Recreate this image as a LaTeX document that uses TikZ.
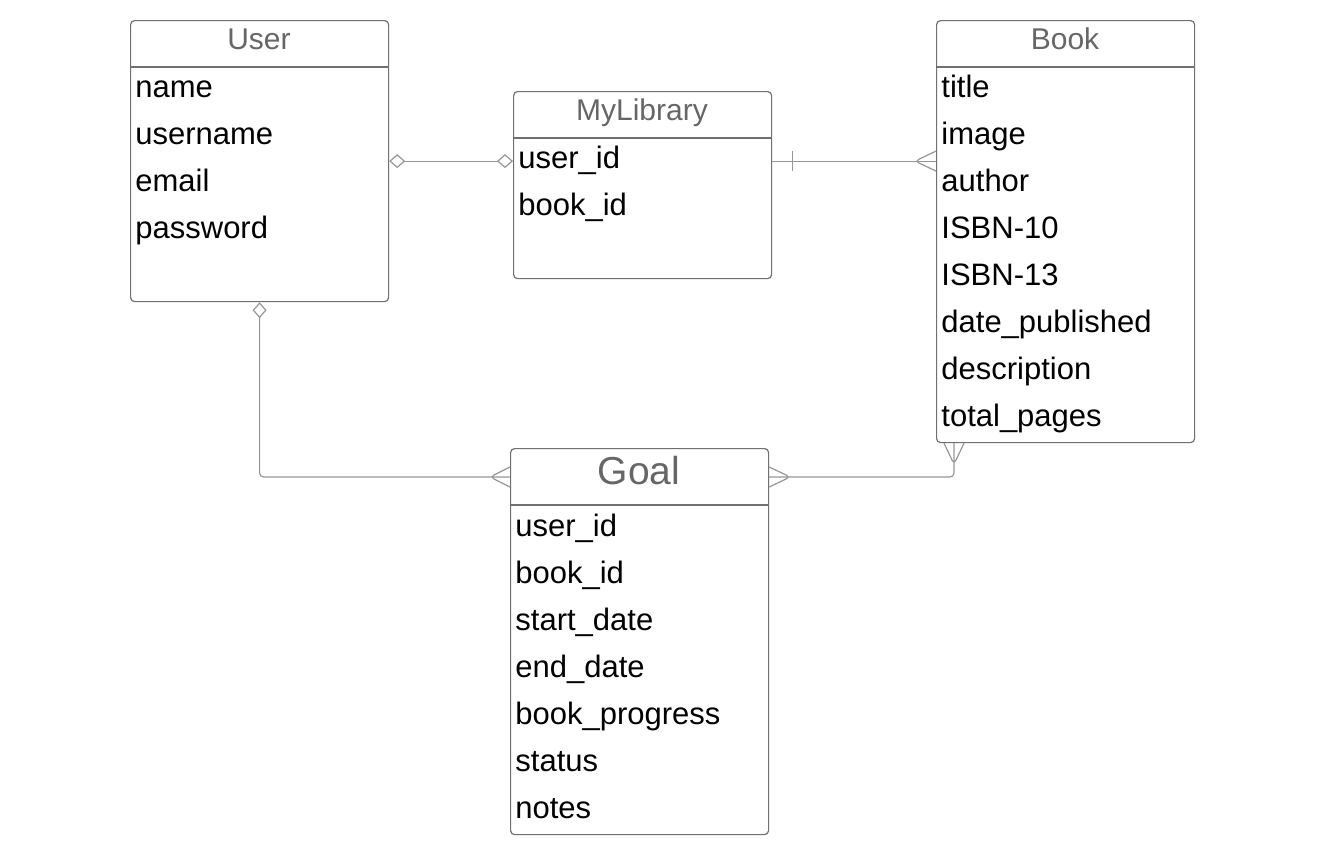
\documentclass[tikz,border=0pt]{standalone}
\usepackage{fontspec}
\setmainfont{Liberation Sans}
\usetikzlibrary{arrows.meta}

\definecolor{boxline}{HTML}{707070}
\definecolor{linkline}{HTML}{969696}
\definecolor{headtext}{HTML}{666666}

\begin{document}
\begin{tikzpicture}[x=0.5pt, y=-0.5pt,
		entity/.style={draw=boxline, line width=0.6pt, rounded corners=2pt,
			minimum width=129pt, inner sep=0pt, anchor=north west},
		sep/.style={draw=boxline, line width=0.6pt},
		head/.style={anchor=base, text=headtext, font=\fontsize{15}{18}\selectfont},
		attr/.style={anchor=base west, inner sep=0pt, font=\fontsize{15.5}{18}\selectfont},
		link/.style={draw=linkline, line width=0.6pt, rounded corners=2pt},
		agg/.tip={Diamond[open, length=8pt, width=7pt]}]
	\useasboundingbox (0,0) rectangle (1338,867);

	% entities
	\node[entity, minimum height=140.5pt]	(user)	at (130,20)	{};
	\draw[sep] (130,67) -- (388,67);
	\node[head] at (259,49) {User};
	\foreach \t [count=\i from 0] in {name,username,email,password}
		\node[attr] at (135,97+47*\i) {\t};

	\node[entity, minimum height=93.5pt]	(mylib)	at (513,91)	{};
	\draw[sep] (513,138) -- (771,138);
	\node[head] at (642,120) {MyLibrary};
	\foreach \t [count=\i from 0] in {user\_id,book\_id}
		\node[attr] at (518,168+47*\i) {\t};

	\node[entity, minimum height=211pt]	(book)	at (936,20)	{};
	\draw[sep] (936,67) -- (1194,67);
	\node[head] at (1065,49) {Book};
	\foreach \t [count=\i from 0] in {title,image,author,ISBN-10,ISBN-13,date\_published,description,total\_pages}
		\node[attr] at (941,97+47*\i) {\t};

	\node[entity, minimum height=193pt]	(goal)	at (510,448)	{};
	\draw[sep] (510,505) -- (768,505);
	\node[head, font=\fontsize{19.5}{22}\selectfont] at (639,484) {Goal};
	\foreach \t [count=\i from 0] in {user\_id,book\_id,start\_date,end\_date,book\_progress,status,notes}
		\node[attr] at (515,536+47*\i) {\t};

	% relations
	\coordinate (g1) at ([yshift=-14.5pt]goal.north west);
	\coordinate (g2) at ([yshift=-14.5pt]goal.north east);
	\coordinate (b1) at ([xshift=9pt]book.south west);
	\coordinate (b2) at (book.west |- user.east);

	\draw[link, agg-agg] (user.east) -- (user.east -| mylib.west);
	\draw[link] (mylib.east |- user.east) -- (b2);
	\draw[link, agg-] (user.south) |- (g1);
	\draw[link] (g2) -| (b1);

	% cardinality marks
	\draw[link] (mylib.east |- user.east) ++(20,-10) -- ++(0,20);
	\draw[link] (b2) ++(0,-10) -- ++(-21,10) -- ++(21,10);
	\draw[link] (g1) ++(0,-10) -- ++(-20,10) -- ++(20,10);
	\draw[link] (g2) ++(0,-10) -- ++(21,10) -- ++(-21,10);
	\draw[link] (b1) ++(-10,0) -- ++(10,21) -- ++(10,-21);
\end{tikzpicture}
\end{document}
